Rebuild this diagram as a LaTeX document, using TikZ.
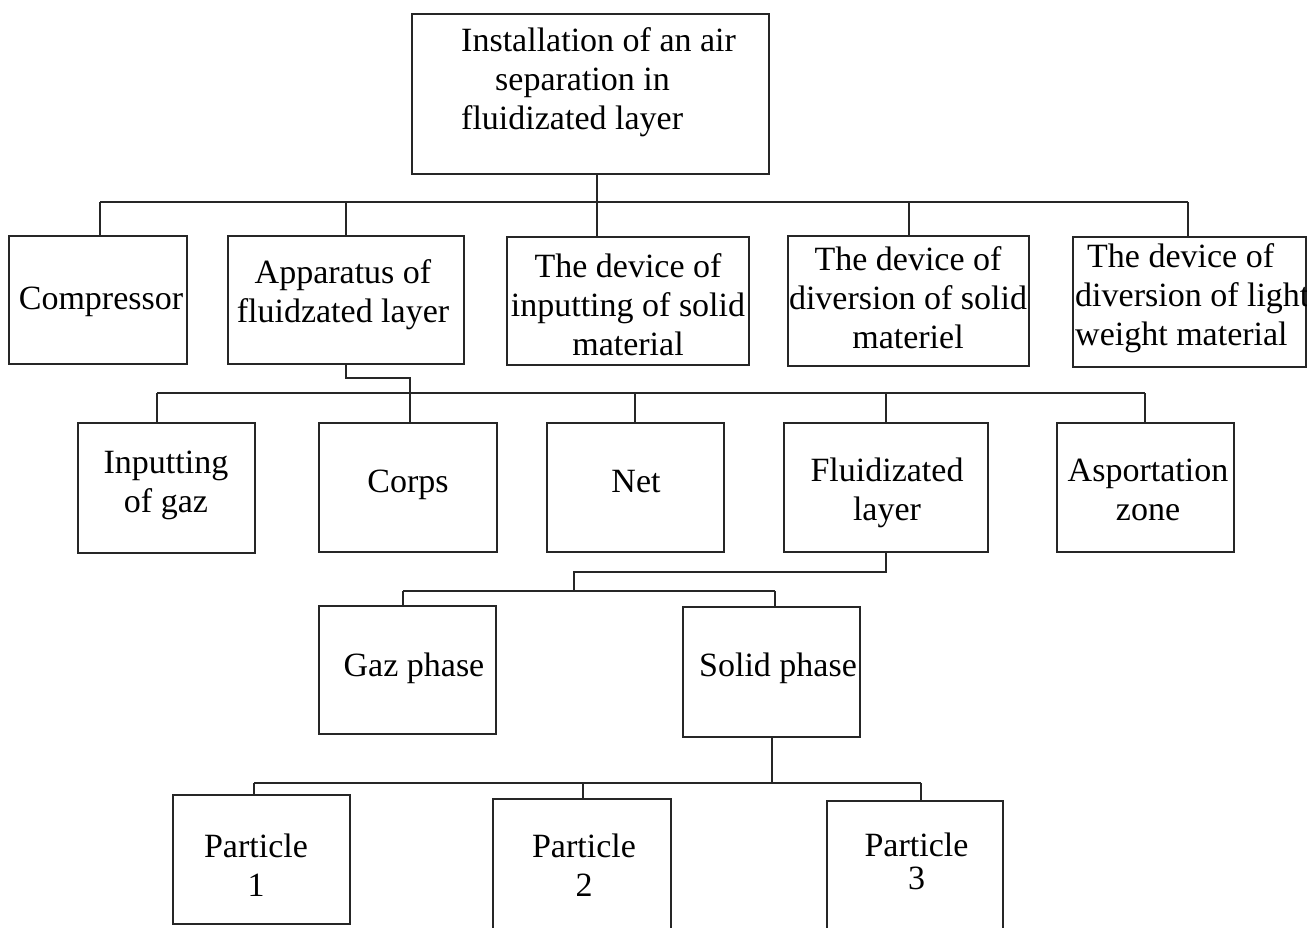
\documentclass[tikz,border=0pt]{standalone}
\usepackage{fontspec}
\setmainfont{Liberation Serif}
\begin{document}
\begin{tikzpicture}[x=1pt,y=-1pt,
  box/.style={draw=black!85, line width=1.5pt, inner sep=0pt, fill=none},
  conn/.style={draw=black!85, line width=1.5pt},
  txt/.style={inner sep=0pt, align=center, font=\fontsize{34}{39}\selectfont},
  txtl/.style={inner sep=0pt, align=left, font=\fontsize{34}{39}\selectfont, anchor=west}]
\useasboundingbox (0,0) rectangle (1307,927);
\clip (0,0) rectangle (1307,927);

% ---------- boxes ----------
\node[box, minimum width=357pt, minimum height=160pt] (top) at (590.5,94) {};
\node[box, minimum width=178pt, minimum height=128pt] (comp) at (98,300) {};
\node[box, minimum width=236pt, minimum height=128pt] (app) at (346,300) {};
\node[box, minimum width=242pt, minimum height=128pt] (insolid) at (628,301) {};
\node[box, minimum width=241pt, minimum height=130pt] (divsolid) at (908.5,301) {};
\node[box, minimum width=233pt, minimum height=130pt] (light) at (1189.5,302) {};

\node[box, minimum width=177pt, minimum height=130pt] (ingaz) at (166.5,488) {};
\node[box, minimum width=178pt, minimum height=129pt] (corps) at (408,487.5) {};
\node[box, minimum width=177pt, minimum height=129pt] (net) at (635.5,487.5) {};
\node[box, minimum width=204pt, minimum height=129pt] (fluid) at (886,487.5) {};
\node[box, minimum width=177pt, minimum height=129pt] (asport) at (1145.5,487.5) {};

\node[box, minimum width=177pt, minimum height=128pt] (gaz) at (407.5,670) {};
\node[box, minimum width=177pt, minimum height=130pt] (solid) at (771.5,672) {};

\node[box, minimum width=177pt, minimum height=129pt] (p1) at (261.5,859.5) {};
\node[box, minimum width=178pt, minimum height=134pt] (p2) at (582,866) {};
\node[box, minimum width=176pt, minimum height=132pt] (p3) at (915,867) {};

% ---------- texts ----------
\node[txtl] (ttop) at (461,83) {\strut Installation of an air\\\hspace*{34pt}\strut separation in\\\strut fluidizated layer};
\node[txt] (tcomp) at (101,302) {\strut Compressor};
\node[txt] (tapp) at (343,295) {\strut Apparatus of\\\strut fluidzated layer};
\node[txt] (tinsolid) at (628,309) {\strut The device of\\\strut inputting of solid\\\strut material};
\node[txt] (tdivsolid) at (908,302) {\strut The device of\\\strut diversion of solid\\\strut materiel};
\node[txtl] (tlight) at (1075,299) {\hspace*{12pt}\strut The device of\\\strut diversion of light\\\strut weight material};

\node[txt] (tingaz) at (166,485.5) {\strut Inputting\\\strut of gaz};
\node[txt] (tcorps) at (408,485) {\strut Corps};
\node[txt] (tnet) at (636,485) {\strut Net};
\node[txt] (tfluid) at (887,493) {\strut Fluidizated\\\strut layer};
\node[txt] (tasport) at (1148,493) {\strut Asportation\\\strut zone};

\node[txt] (tgaz) at (414,669) {\strut Gaz phase};
\node[txt] (tsolid) at (778,669) {\strut Solid phase};

\node[txt] (tp1) at (256,869.5) {\strut Particle\\\strut 1};
\node[txt] (tp2) at (584,869.5) {\strut Particle\\\strut 2};
\node[txt, font=\fontsize{34}{31}\selectfont] (tp3) at (916.5,866) {\strut Particle\\\strut 3};

% ---------- connectors: level 1 ----------
\coordinate (j0) at (597,202);
\coordinate (d1) at (100,202);
\coordinate (d2) at (346,202);
\coordinate (d4) at (909,202);
\coordinate (d5) at (1188,202);
\draw[conn] (top.south -| j0) -- (j0);
\draw[conn] (d1) -- (d5);
\draw[conn] (d1) -- (d1 |- comp.north);
\draw[conn] (d2) -- (d2 |- app.north);
\draw[conn] (j0) -- (j0 |- insolid.north);
\draw[conn] (d4) -- (d4 |- divsolid.north);
\draw[conn] (d5) -- (d5 |- light.north);

% ---------- connectors: level 2 ----------
\coordinate (a1) at (346,378);
\coordinate (a2) at (410,378);
\draw[conn] (app.south -| a1) -- (a1) -- (a2) -- (a2 |- corps.north);
\coordinate (r1) at (157,393);
\coordinate (r3) at (635,393);
\coordinate (r4) at (886,393);
\coordinate (r5) at (1145,393);
\draw[conn] (r1) -- (r5);
\draw[conn] (r1) -- (r1 |- ingaz.north);
\draw[conn] (r3) -- (r3 |- net.north);
\draw[conn] (r4) -- (r4 |- fluid.north);
\draw[conn] (r5) -- (r5 |- asport.north);

% ---------- connectors: level 3 ----------
\coordinate (f1) at (886,572);
\coordinate (f2) at (574,572);
\coordinate (g1) at (403,591);
\coordinate (g2) at (775,591);
\draw[conn] (fluid.south -| f1) -- (f1) -- (f2) -- (f2 |- g1);
\draw[conn] (g1) -- (g2);
\draw[conn] (g1) -- (g1 |- gaz.north);
\draw[conn] (g2) -- (g2 |- solid.north);

% ---------- connectors: level 4 ----------
\coordinate (s1) at (772,783);
\coordinate (q1) at (254,783);
\coordinate (q2) at (583,783);
\coordinate (q3) at (921,783);
\draw[conn] (solid.south -| s1) -- (s1);
\draw[conn] (q1) -- (q3);
\draw[conn] (q1) -- (q1 |- p1.north);
\draw[conn] (q2) -- (q2 |- p2.north);
\draw[conn] (q3) -- (q3 |- p3.north);
\end{tikzpicture}
\end{document}
